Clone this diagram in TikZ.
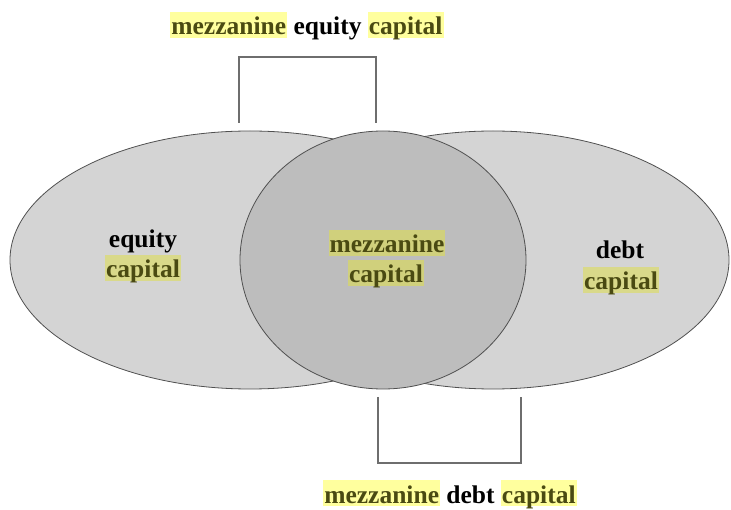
\documentclass[tikz,border=0pt]{standalone}
\usepackage{fontspec}
\setmainfont{Liberation Serif}[BoldFont={Liberation Serif Bold}]
\usepackage{xcolor}
\usetikzlibrary{positioning}

\definecolor{outerfill}{HTML}{D4D4D4}
\definecolor{innerfill}{HTML}{BDBDBD}
\definecolor{rimline}{HTML}{505050}
\definecolor{bracketline}{HTML}{6E6E6E}
\definecolor{hlwhite}{HTML}{FFFF9E}
\definecolor{hlgray}{HTML}{D9D98A}
\definecolor{hldark}{HTML}{D0D07C}
\definecolor{hltext}{HTML}{4A4A12}

% highlighted word: background colour, word
\newcommand{\hlword}[2]{{\setlength{\fboxsep}{0pt}\colorbox{#1}{\kern1pt\rule[-3pt]{0pt}{26pt}\smash{\color{hltext}#2}\kern1pt}}}

\begin{document}
\begin{tikzpicture}[x=1pt,y=1pt,
    rim/.style={draw=rimline,line width=.8pt},
    bracket/.style={draw=bracketline,line width=1.2pt},
    lbl/.style={font=\bfseries\fontsize{25.5}{30}\selectfont,inner sep=0pt,anchor=base}]

    \useasboundingbox (0,0) rectangle (731,509);

    % Draw the two outer ellipses.
    \filldraw[rim,fill=outerfill] (250,249) ellipse [x radius=240,y radius=129];
    \filldraw[rim,fill=outerfill] (493,249) ellipse [x radius=236,y radius=129];

    % Draw the middle circle on top.
    \filldraw[rim,fill=innerfill] (383,249) ellipse [x radius=143,y radius=129];

    % Draw brackets.
    \coordinate (tl) at (239,386);
    \coordinate (tr) at (376,386);
    \coordinate (bl) at (378,112);
    \coordinate (br) at (521,112);
    \draw[bracket] (tl) -- ++(0,66) -| (tr);
    \draw[bracket] (bl) -- ++(0,-66) -| (br);

    % Labels inside the shapes.
    \node[lbl] (eqWord) at (143,261) {equity};
    \node[lbl] (eqCap) at (143,231) {\hlword{hlgray}{capital}};
    \node[lbl] (mezWord) at (387,256) {\hlword{hldark}{mezzanine}};
    \node[lbl] (mezCap) at (386,226) {\hlword{hldark}{capital}};
    \node[lbl] (debtWord) at (620,250) {debt};
    \node[lbl] (debtCap) at (621,219) {\hlword{hlgray}{capital}};

    % Labels of the brackets.
    \node[lbl] (topLabel) at (307,474) {\hlword{hlwhite}{mezzanine} equity \hlword{hlwhite}{capital}};
    \node[lbl] (botLabel) at (450,6) {\hlword{hlwhite}{mezzanine} debt \hlword{hlwhite}{capital}};

\end{tikzpicture}
\end{document}
